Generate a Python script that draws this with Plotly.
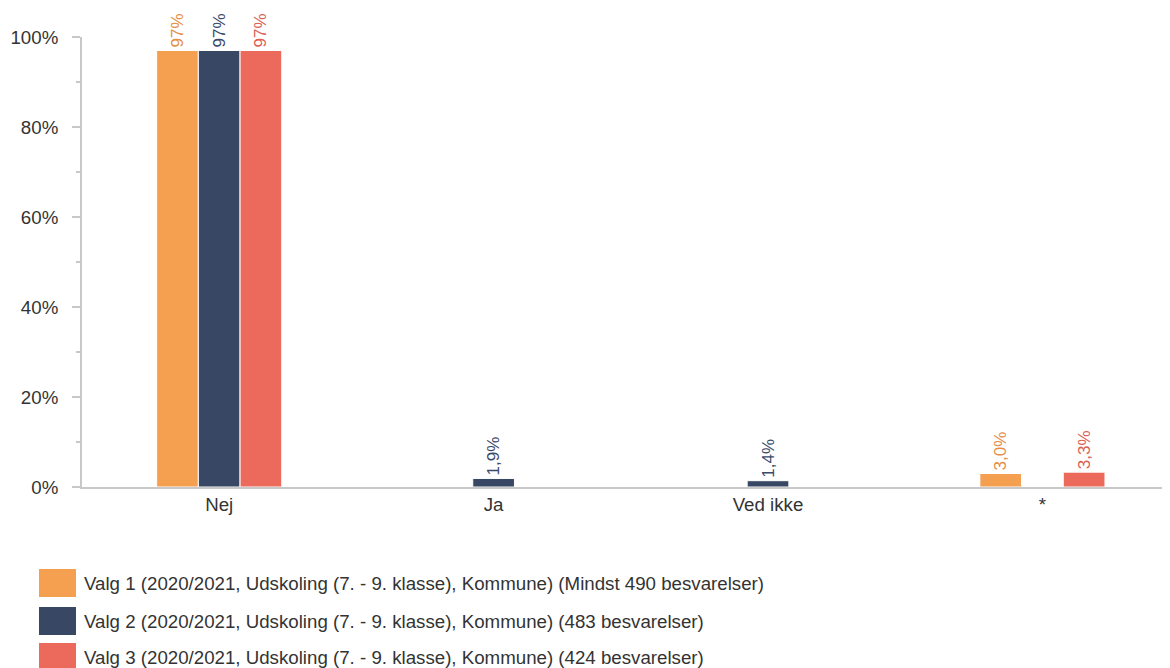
import plotly.graph_objects as go

categories = ["Nej", "Ja", "Ved ikke", "*"]
series_names = [
    "Valg 1 (2020/2021, Udskoling (7. - 9. klasse), Kommune) (Mindst 490 besvarelser)",
    "Valg 2 (2020/2021, Udskoling (7. - 9. klasse), Kommune) (483 besvarelser)",
    "Valg 3 (2020/2021, Udskoling (7. - 9. klasse), Kommune) (424 besvarelser)",
]
valg1 = [97, None, None, 3.0]
valg2 = [97, 1.9, 1.4, None]
valg3 = [97, None, None, 3.3]
labels1 = ["97%", "", "", "3,0%"]
labels2 = ["97%", "1,9%", "1,4%", ""]
labels3 = ["97%", "", "", "3,3%"]
y_ticks = [0, 20, 40, 60, 80, 100]
y_tick_labels = ["0%", "20%", "40%", "60%", "80%", "100%"]

bar_colors = ["#F4A050", "#374764", "#EB6A5B"]
text_colors = ["#E58E45", "#3A4A6A", "#DC5F55"]
FONT = "Liberation Sans, Arial, sans-serif"
FS = 18.7

fig = go.Figure()
for name, vals, labs, c, tc in zip(series_names, [valg1, valg2, valg3],
                                   [labels1, labels2, labels3], bar_colors, text_colors):
    fig.add_trace(go.Bar(
        x=categories, y=vals, name=name, text=labs,
        textposition="outside", textangle=-90,
        textfont=dict(color=tc, size=17, family=FONT),
        constraintext="none", cliponaxis=False,
        marker=dict(color=c, line=dict(color="white", width=1)),
        showlegend=False,
    ))

# page has an 8px body margin; figure is sized to fill the rest
OFF = 8
W, H = 1170 - OFF, 668 - OFF
ml, mr, mt, mb = 82 - OFF, 0, 37 - OFF, 181
fig.update_layout(
    width=W, height=H,
    margin=dict(l=ml, r=mr, t=mt, b=mb),
    plot_bgcolor="white", paper_bgcolor="white",
    barmode="group", bargap=0.544, bargroupgap=0,
    font=dict(family=FONT, color="#333333", size=FS),
)
fig.update_xaxes(
    range=[-0.5, 3.465], showline=True, linecolor="#C8C8C8", linewidth=2,
    ticks="", showgrid=False, tickfont=dict(size=FS, color="#333333"),
)
fig.update_yaxes(
    range=[0, 100], tickvals=y_ticks, ticktext=y_tick_labels,
    showline=True, linecolor="#C8C8C8", linewidth=2,
    ticks="outside", ticklen=8, tickwidth=2, tickcolor="#C8C8C8",
    minor=dict(ticks="outside", ticklen=4, tickwidth=2, tickcolor="#C8C8C8", dtick=10),
    showgrid=False, zeroline=False, tickfont=dict(size=FS, color="#333333"),
    ticklabelstandoff=10,
)

# Manual legend (larger swatches, as in the reference); page pixel positions
ph = H - mt - mb
pw = W - ml - mr
def px_x(x):
    return (x - OFF - ml) / pw
def px_y(y):
    return (H - mb - (y - OFF)) / ph

legend_y = [583, 621, 657]
for name, c, yc in zip(series_names, bar_colors, legend_y):
    fig.add_shape(type="rect", xref="paper", yref="paper",
                  x0=px_x(39), x1=px_x(76), y0=px_y(yc + 14), y1=px_y(yc - 14),
                  fillcolor=c, line=dict(width=0))
    fig.add_annotation(xref="paper", yref="paper", x=px_x(82), y=px_y(yc),
                       text=name, showarrow=False, xanchor="left", yanchor="middle",
                       font=dict(size=FS, color="#333333", family=FONT))

fig.write_html("out.html")
